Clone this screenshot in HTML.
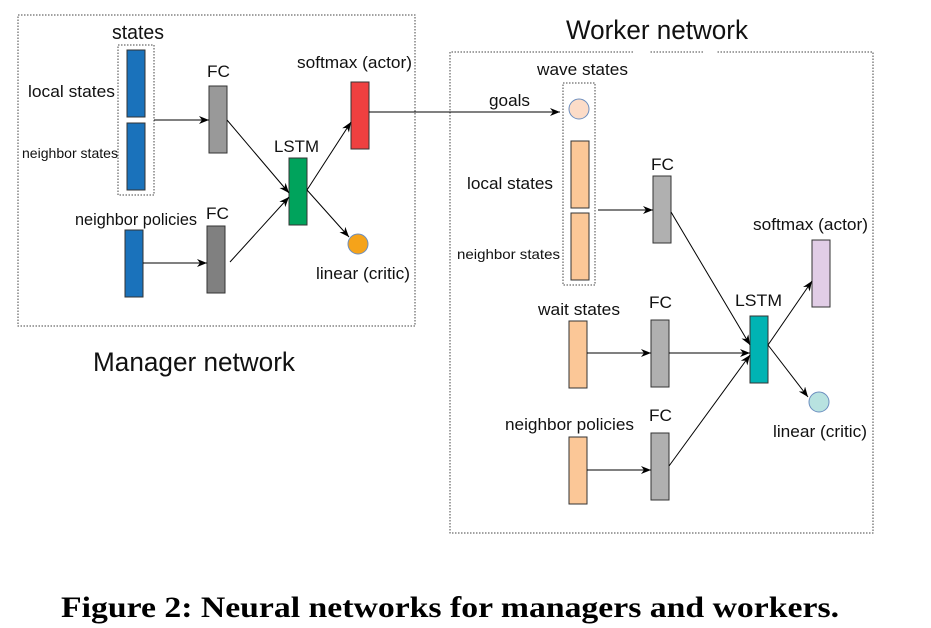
<!DOCTYPE html>
<html><head><style>body{margin:0;background:#fff}svg{display:block}</style></head><body>
<svg width="931" height="628" viewBox="0 0 931 628" xmlns="http://www.w3.org/2000/svg" font-family="Liberation Sans, sans-serif">
<defs><marker id="a" markerWidth="10" markerHeight="8" refX="10" refY="4" orient="auto" markerUnits="userSpaceOnUse"><path d="M0,0 L10,4 L0,8 L3,4Z" fill="#000"/></marker></defs>
<g fill="none" stroke="#444" stroke-dasharray="1.5,1.5">
<rect x="18" y="15" width="397" height="311"/>
<rect x="118" y="45" width="36" height="150"/>
<rect x="563" y="83" width="32" height="202"/>
<path d="M450,52 V533 H873 V52 H716 M703,52 H650 M633,52 H450"/>
</g>
<g stroke="#333" stroke-width="1">
<rect x="127" y="50" width="18" height="67" fill="#1a72bb"/>
<rect x="127" y="123" width="18" height="67" fill="#1a72bb"/>
<rect x="125" y="230" width="18" height="67" fill="#1a72bb"/>
<rect x="209" y="86" width="18" height="67" fill="#999"/>
<rect x="207" y="226" width="18" height="67" fill="#808080"/>
<rect x="289" y="158" width="18" height="67" fill="#00a35c"/>
<rect x="351" y="82" width="18" height="67" fill="#ef4040"/>
<circle cx="358" cy="244" r="10" fill="#f5a31a" stroke="#6c8ebf"/>
<circle cx="579" cy="109" r="10" fill="#fcdcc8" stroke="#6c8ebf"/>
<rect x="571" y="141" width="18" height="67" fill="#fbc797"/>
<rect x="571" y="213" width="18" height="67" fill="#fbc797"/>
<rect x="569" y="321" width="18" height="67" fill="#fbc797"/>
<rect x="569" y="437" width="18" height="67" fill="#fbc797"/>
<rect x="653" y="176" width="18" height="67" fill="#b0b0b0"/>
<rect x="651" y="320" width="18" height="67" fill="#b0b0b0"/>
<rect x="651" y="433" width="18" height="67" fill="#b0b0b0"/>
<rect x="750" y="316" width="18" height="67" fill="#00b3b3"/>
<rect x="812" y="240" width="18" height="67" fill="#e1cde6"/>
<circle cx="819" cy="402" r="10" fill="#b8e2e0" stroke="#6c8ebf"/>
</g>
<g stroke="#000" stroke-width="1" marker-end="url(#a)">
<line x1="154" y1="120" x2="209" y2="120"/>
<line x1="143" y1="263" x2="207" y2="263"/>
<line x1="227" y1="120" x2="289" y2="193"/>
<line x1="230" y1="262" x2="289" y2="197"/>
<line x1="307" y1="190" x2="351" y2="122"/>
<line x1="307" y1="190" x2="349" y2="237"/>
<line x1="369" y1="112" x2="560" y2="112"/>
<line x1="598" y1="210" x2="653" y2="210"/>
<line x1="587" y1="353" x2="651" y2="353"/>
<line x1="587" y1="470" x2="651" y2="470"/>
<line x1="671" y1="212" x2="750" y2="345"/>
<line x1="669" y1="353" x2="750" y2="353"/>
<line x1="669" y1="466" x2="750" y2="355"/>
<line x1="768" y1="345" x2="812" y2="281"/>
<line x1="768" y1="345" x2="808" y2="397"/>
</g>
<g fill="#111" font-size="17">
<text x="112" y="39" font-size="20" textLength="52" lengthAdjust="spacingAndGlyphs">states</text>
<text x="28" y="97" textLength="87" lengthAdjust="spacingAndGlyphs">local states</text>
<text x="22" y="158" font-size="14" textLength="96" lengthAdjust="spacingAndGlyphs">neighbor states</text>
<text x="207" y="77" textLength="23" lengthAdjust="spacingAndGlyphs">FC</text>
<text x="206" y="219" textLength="23" lengthAdjust="spacingAndGlyphs">FC</text>
<text x="274" y="152" textLength="45" lengthAdjust="spacingAndGlyphs">LSTM</text>
<text x="75" y="225" textLength="122" lengthAdjust="spacingAndGlyphs">neighbor policies</text>
<text x="297" y="68" textLength="115" lengthAdjust="spacingAndGlyphs">softmax (actor)</text>
<text x="316" y="279" textLength="94" lengthAdjust="spacingAndGlyphs">linear (critic)</text>
<text x="93" y="371" font-size="27" textLength="202" lengthAdjust="spacingAndGlyphs">Manager network</text>
<text x="566" y="39" font-size="27" textLength="182" lengthAdjust="spacingAndGlyphs">Worker network</text>
<text x="537" y="75" textLength="91" lengthAdjust="spacingAndGlyphs">wave states</text>
<text x="489" y="106" textLength="41" lengthAdjust="spacingAndGlyphs">goals</text>
<text x="467" y="189" textLength="86" lengthAdjust="spacingAndGlyphs">local states</text>
<text x="457" y="259" font-size="14" textLength="103" lengthAdjust="spacingAndGlyphs">neighbor states</text>
<text x="651" y="170" textLength="23" lengthAdjust="spacingAndGlyphs">FC</text>
<text x="649" y="308" textLength="23" lengthAdjust="spacingAndGlyphs">FC</text>
<text x="649" y="421" textLength="23" lengthAdjust="spacingAndGlyphs">FC</text>
<text x="538" y="315" textLength="82" lengthAdjust="spacingAndGlyphs">wait states</text>
<text x="505" y="430" textLength="129" lengthAdjust="spacingAndGlyphs">neighbor policies</text>
<text x="735" y="306" textLength="47" lengthAdjust="spacingAndGlyphs">LSTM</text>
<text x="753" y="230" textLength="115" lengthAdjust="spacingAndGlyphs">softmax (actor)</text>
<text x="773" y="437" textLength="94" lengthAdjust="spacingAndGlyphs">linear (critic)</text>
</g>
<text x="61" y="617" font-family="Liberation Serif, serif" font-weight="bold" font-size="30" fill="#000" textLength="778" lengthAdjust="spacingAndGlyphs">Figure 2: Neural networks for managers and workers.</text>
</svg>
</body></html>
